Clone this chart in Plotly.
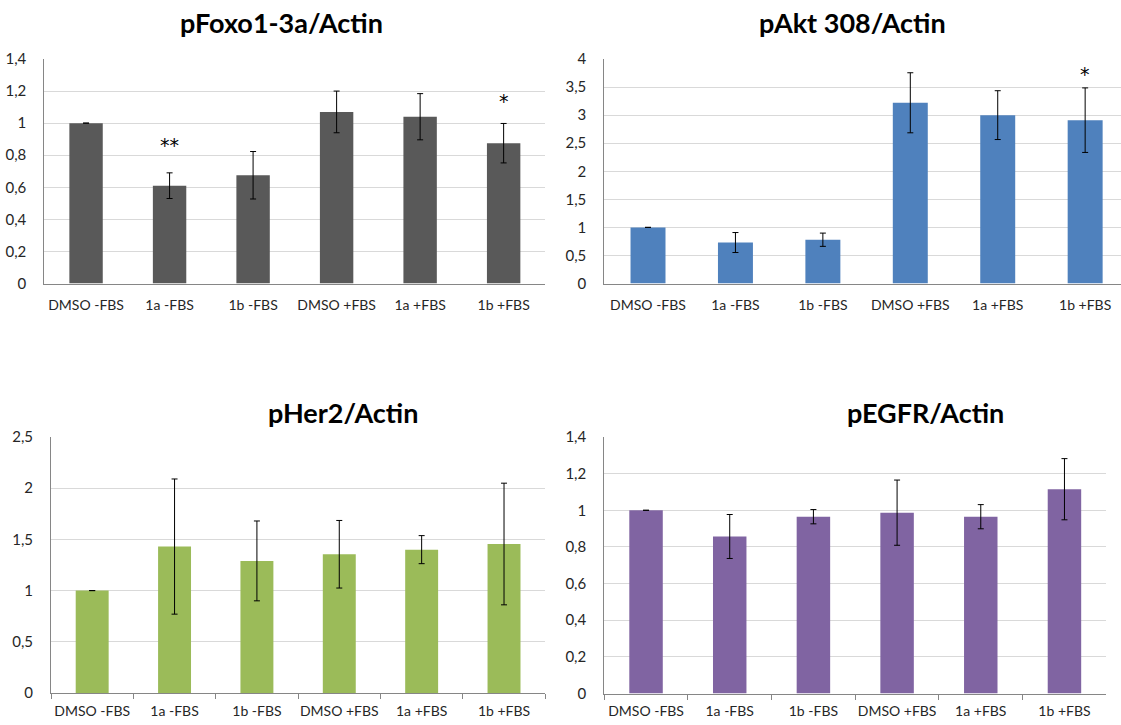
import plotly.graph_objects as go

categories = ["DMSO -FBS", "1a -FBS", "1b -FBS", "DMSO +FBS", "1a +FBS", "1b +FBS"]

foxo_vals = [1.0, 0.61, 0.675, 1.07, 1.04, 0.875]
foxo_err = [0.0, 0.08, 0.148, 0.13, 0.144, 0.123]

akt_vals = [1.0, 0.73, 0.78, 3.22, 3.0, 2.91]
akt_err = [0.0, 0.178, 0.118, 0.535, 0.435, 0.575]

her2_vals = [1.0, 1.43, 1.29, 1.355, 1.40, 1.455]
her2_err = [0.0, 0.66, 0.39, 0.33, 0.137, 0.594]

egfr_vals = [1.0, 0.857, 0.965, 0.987, 0.965, 1.115]
egfr_err = [0.0, 0.12, 0.039, 0.178, 0.066, 0.167]

titles = ["pFoxo1-3a/Actin", "pAkt 308/Actin", "pHer2/Actin", "pEGFR/Actin"]
colors = ["#595959", "#4f81bd", "#9bbb59", "#8064a2"]

foxo_ticks = [0, 0.2, 0.4, 0.6, 0.8, 1.0, 1.2, 1.4]
akt_ticks = [0, 0.5, 1, 1.5, 2, 2.5, 3, 3.5, 4]
her2_ticks = [0, 0.5, 1, 1.5, 2, 2.5]
egfr_ticks = [0, 0.2, 0.4, 0.6, 0.8, 1.0, 1.2, 1.4]

# significance marks: (panel index, category, label, y)
stars = [(0, "1a -FBS", "**", 0.865), (0, "1b +FBS", "*", 1.135), (1, "1b +FBS", "*", 3.74)]

W, H = 1121, 725
FONT = "Lato, Open Sans, sans-serif"

def fmt(v):
    s = ("%g" % v)
    return s.replace(".", ",")

def px(x):
    return x / W

def py(y):
    return 1 - y / H

panels = [
    dict(vals=foxo_vals, err=foxo_err, ticks=foxo_ticks, xpx=(44.3, 545.4), ypx=(59, 283.5), xr=[-0.5, 5.5], ticks_on=False, tpos=(281, 23)),
    dict(vals=akt_vals, err=akt_err, ticks=akt_ticks, xpx=(604.3, 1121), ypx=(59, 283.5), xr=[-0.5, 5.41], ticks_on=False, tpos=(852, 23)),
    dict(vals=her2_vals, err=her2_err, ticks=her2_ticks, xpx=(51, 545.2), ypx=(437, 693), xr=[-0.5, 5.5], ticks_on=True, tpos=(343, 412)),
    dict(vals=egfr_vals, err=egfr_err, ticks=egfr_ticks, xpx=(604.2, 1106.3), ypx=(437, 693.5), xr=[-0.5, 5.5], ticks_on=True, tpos=(925, 412)),
]

fig = go.Figure()
layout = dict(
    width=W, height=H, margin=dict(l=0, r=0, t=0, b=0),
    paper_bgcolor="white", plot_bgcolor="white", showlegend=False,
    bargap=0.6, font=dict(family=FONT, size=13, color="#262626"),
)
annotations = []
for i, p in enumerate(panels):
    n = "" if i == 0 else str(i + 1)
    xa = "x" + n
    ya = "y" + n
    fig.add_trace(go.Bar(
        x=categories, y=p["vals"], marker=dict(color=colors[i], line=dict(width=0)),
        error_y=dict(type="data", array=p["err"], color="#000000", thickness=1, width=3),
        xaxis=xa, yaxis=ya,
    ))
    x0, x1 = p["xpx"]
    y0, y1 = p["ypx"]
    layout["xaxis" + n] = dict(
        domain=[max(px(x0), 0.0), min(px(x1), 1.0)], anchor=ya, range=p["xr"],
        type="category", showline=True, linecolor="#868686", linewidth=1,
        showgrid=False, tickfont=dict(size=14, color="#262626"), tickangle=0,
        ticks="outside" if p["ticks_on"] else "", ticklen=5, tickcolor="#868686",
        tickson="boundaries" if p["ticks_on"] else "labels",
        ticklabelstandoff=9 if not p["ticks_on"] else 5,
        ticklabeloverflow="allow",
        automargin=False, fixedrange=True,
    )
    ymax = p["ticks"][-1]
    layout["yaxis" + n] = dict(
        domain=[py(y1), py(y0)], anchor=xa, range=[0, ymax],
        tickvals=p["ticks"], ticktext=[fmt(t) for t in p["ticks"]],
        showgrid=True, gridcolor="#d9d9d9", gridwidth=1,
        showline=True, linecolor="#868686", linewidth=1, zeroline=False,
        tickfont=dict(size=15, color="#262626"), ticks="", ticklabelstandoff=14,
        automargin=False, fixedrange=True,
    )
    annotations.append(dict(
        text="<b>" + titles[i] + "</b>", xref="paper", yref="paper",
        x=px(p["tpos"][0]), y=py(p["tpos"][1]), xanchor="center", yanchor="middle",
        showarrow=False, font=dict(family=FONT, size=27, color="#000000"),
    ))

for (pi, cat, lab, yv) in stars:
    n = "" if pi == 0 else str(pi + 1)
    annotations.append(dict(
        text=lab, x=cat, y=yv, xref="x" + n, yref="y" + n, showarrow=False,
        font=dict(family="DejaVu Sans", size=19, color="#000000"), xanchor="center", yanchor="middle",
    ))

layout["annotations"] = annotations
fig.update_layout(**layout)
fig.write_html(
    "out.html",
    config={"displayModeBar": False, "staticPlot": True},
    post_script="document.body.style.margin='0';document.body.style.overflow='hidden';",
)
